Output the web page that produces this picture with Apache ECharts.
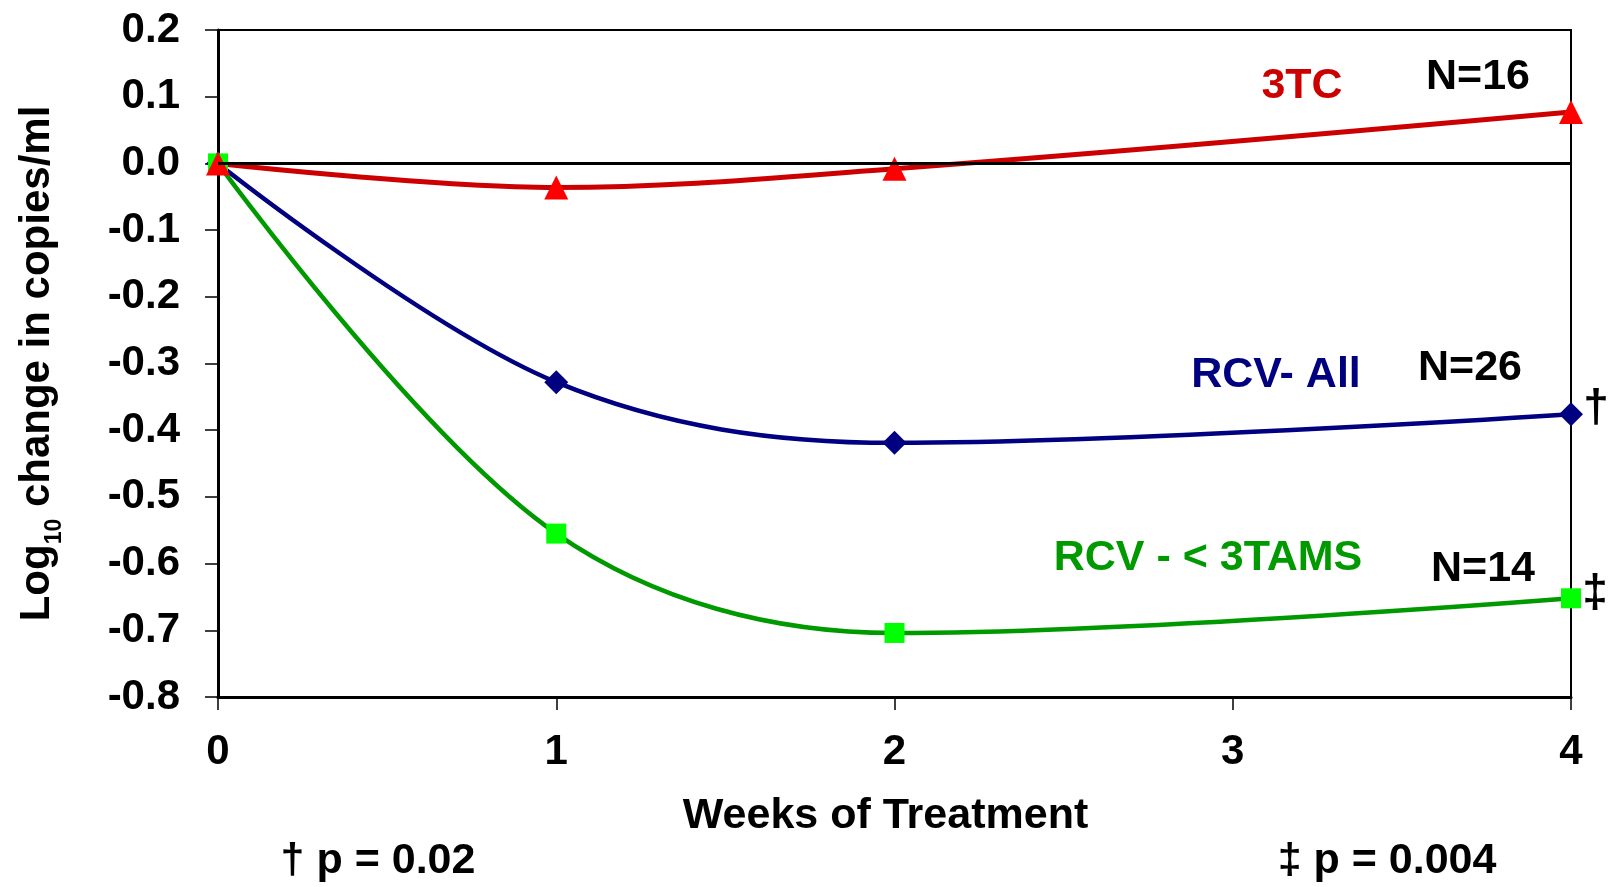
<!DOCTYPE html>
<html>
<head>
<meta charset="utf-8">
<script src="https://cdn.jsdelivr.net/npm/echarts@6.0.0/dist/echarts.min.js"></script>
<style>
  html, body { margin: 0; padding: 0; background: #fff; }
  #chart { width: 1611px; height: 887px; }
</style>
</head>
<body>
<div id="chart"></div>
<script>
// weeks of treatment
var weeks = [0, 1, 2, 4];
// log10 change in copies/ml
var tcValues = [0, -0.036, -0.008, 0.077];       // 3TC
var rcvAllValues = [0, -0.328, -0.419, -0.376];  // RCV- All
var rcvTamsValues = [0, -0.555, -0.704, -0.652]; // RCV - < 3TAMS

var FONT = '"Liberation Sans", Arial, sans-serif';

var pairs = function(xs, ys){
    var out = [];
    xs.forEach(function(x, i){
        out.push([x, ys[i]]);
    });
    return out;
};

var txt = function(text, x, y, color, size){
    return {
        type: 'text',
        x: x,
        y: y,
        style: {
            text: text,
            fill: color,
            font: 'bold ' + (size || 43) + 'px ' + FONT,
            textAlign: 'center',
            textVerticalAlign: 'middle'
        }
    };
};

var myCharts = echarts.init(document.getElementById('chart'));
var option = {
    animation: false,
    backgroundColor: '#fff',
    grid: {
        left: 213,
        right: 40,
        top: 30,
        bottom: 190,
        show: true,
        borderColor: '#000',
        borderWidth: 2
    },
    xAxis: {
        type: 'value',
        min: 0,
        max: 4,
        interval: 1,
        name: 'Weeks of Treatment',
        nameLocation: 'middle',
        nameGap: 98,
        nameTextStyle: { color: '#000', fontFamily: FONT, fontWeight: 'bold', fontSize: 43, padding: [0, 18, 0, 0] },
        axisLine: { onZero: false, lineStyle: { color: '#000', width: 3 } },
        axisTick: { length: 13, lineStyle: { color: '#000', width: 1.5 } },
        axisLabel: { color: '#000', fontFamily: FONT, fontWeight: 'bold', fontSize: 42, margin: 34 },
        splitLine: { show: false }
    },
    yAxis: {
        type: 'value',
        min: -0.8,
        max: 0.2,
        interval: 0.1,
        name: 'Log{sub|10} change in copies/ml',
        nameLocation: 'middle',
        nameGap: 152,
        nameRotate: 90,
        nameTextStyle: {
            color: '#000', fontFamily: FONT, fontWeight: 'bold', fontSize: 42, lineHeight: 58,
            rich: {
                sub: { color: '#000', fontFamily: FONT, fontWeight: 'bold', fontSize: 23, lineHeight: 23, verticalAlign: 'bottom' }
            }
        },
        axisLine: { onZero: false, lineStyle: { color: '#000', width: 3 } },
        axisTick: { length: 13, lineStyle: { color: '#000', width: 1.5 } },
        axisLabel: {
            color: '#000', fontFamily: FONT, fontWeight: 'bold', fontSize: 42, margin: 38,
            formatter: function(v){ return v.toFixed(1); }
        },
        splitLine: { show: false }
    },
    series: [
        {
            name: 'RCV- All',
            type: 'line',
            smooth: 0.35,
            data: pairs(weeks, rcvAllValues),
            symbol: 'diamond',
            symbolSize: 24,
            lineStyle: { color: '#000080', width: 4.5 },
            itemStyle: { color: '#000080' },
            markLine: {
                silent: true,
                symbol: ['none', 'none'],
                label: { show: false },
                lineStyle: { color: '#000', width: 3, type: 'solid' },
                data: [{ yAxis: 0 }]
            }
        },
        {
            name: 'RCV - < 3TAMS',
            type: 'line',
            smooth: 0.35,
            data: pairs(weeks, rcvTamsValues),
            symbol: 'rect',
            symbolSize: 20,
            lineStyle: { color: '#009900', width: 4.5 },
            itemStyle: { color: '#00ff00' }
        },
        {
            name: '3TC',
            type: 'line',
            smooth: 0.35,
            data: pairs(weeks, tcValues),
            symbol: 'triangle',
            symbolSize: 24,
            lineStyle: { color: '#cc0000', width: 5 },
            itemStyle: { color: '#ff0000' }
        }
    ],
    graphic: [
        txt('3TC', 1302, 86, '#cc0000'),
        txt('N=16', 1478, 77, '#000'),
        txt('RCV- All', 1276, 375, '#000080'),
        txt('N=26', 1470, 368, '#000'),
        txt('†', 1596, 409, '#000', 46),
        txt('RCV - < 3TAMS', 1208, 558, '#009900'),
        txt('N=14', 1483, 569, '#000'),
        txt('‡', 1595, 594, '#000', 46),
        txt('† p = 0.02', 378, 861, '#000'),
        txt('‡ p = 0.004', 1387, 861, '#000')
    ]
};
myCharts.setOption(option);
</script>
</body>
</html>
